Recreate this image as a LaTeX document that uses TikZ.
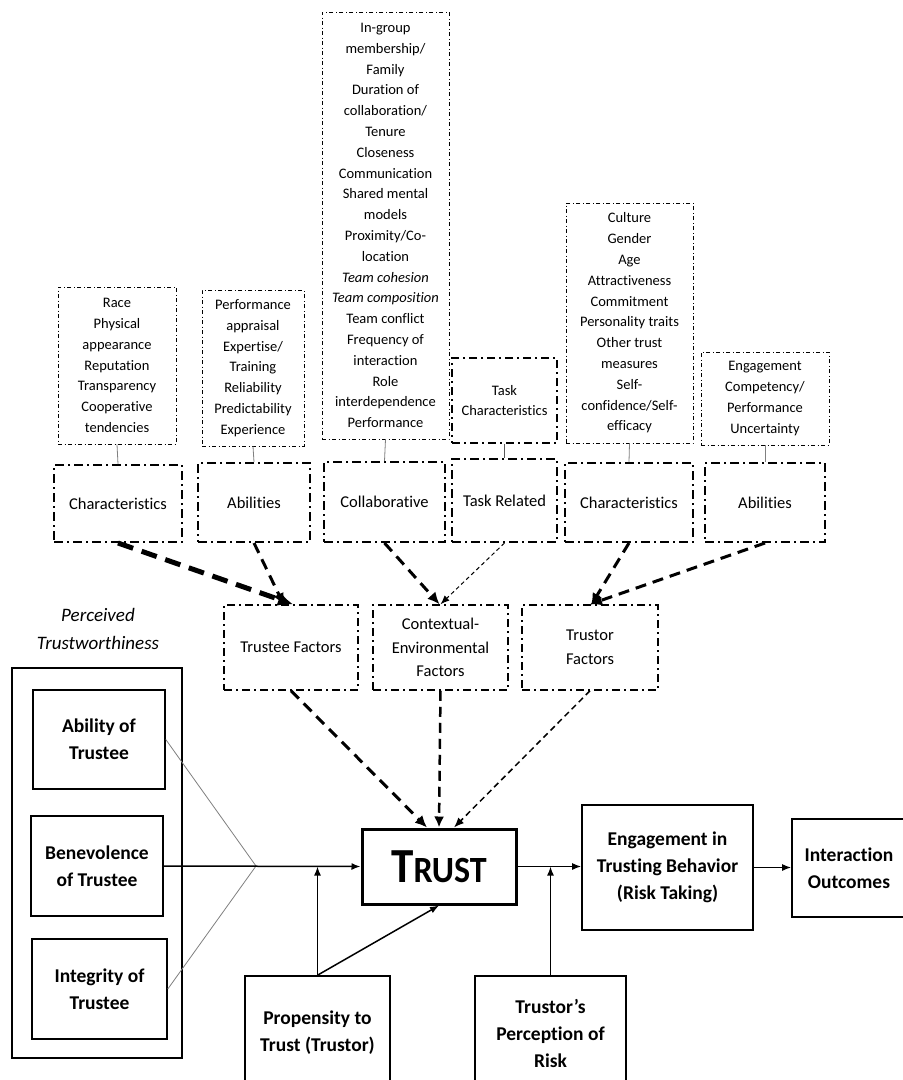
\documentclass[tikz,border=0pt]{standalone}
\usepackage{fontspec}
\setmainfont{Carlito}[Ligatures=NoCommon]
\usepackage{graphicx}
\usetikzlibrary{arrows.meta}

\begin{document}
\begin{tikzpicture}[x=1pt,y=-1pt,
  every node/.style={inner sep=0pt, align=center},
  facts/.style={draw, line width=0.9pt, dash pattern=on 4pt off 2.5pt on 1pt off 2.5pt,
    font=\fontsize{14.5}{20.8}\selectfont},
  grp/.style={draw, line width=2pt, dash pattern=on 9pt off 4pt on 2pt off 4pt,
    font=\fontsize{16.5}{23.5}\selectfont},
  factor/.style={draw, line width=1.5pt, dash pattern=on 8pt off 4pt on 2pt off 4pt,
    font=\fontsize{16.5}{23.5}\selectfont},
  solidbox/.style={draw, line width=1.6pt, font=\bfseries\fontsize{19.5}{27}\selectfont},
  tie/.style={draw=gray, line width=0.8pt},
  link/.style={line width=1.5pt, -{Latex[length=9pt,width=7pt]}},
  heavy/.style={line width=5pt, dash pattern=on 16pt off 9pt, -{Latex[length=15pt,width=14pt]}},
  bold/.style={line width=3pt, dash pattern=on 11pt off 7pt, -{Latex[length=12pt,width=11pt]}},
  mid/.style={line width=2.5pt, dash pattern=on 10pt off 6pt, -{Latex[length=11pt,width=10pt]}},
  fine/.style={line width=1pt, dash pattern=on 4pt off 3pt, -{Latex[length=9pt,width=7pt]}},
  light/.style={line width=1.5pt, dash pattern=on 6pt off 4pt, -{Latex[length=10pt,width=8pt]}}
]
\clip (0,0) rectangle (903,1080);
\fill[white] (0,0) rectangle (903,1080);

% ---- item lists ----
\node[facts, minimum width=118pt, minimum height=157pt] (race) at (117,365.5)
  {Race\\Physical\\appearance\\Reputation\\Transparency\\Cooperative\\tendencies};
\node[facts, minimum width=102pt, minimum height=156pt] (perf) at (253,368)
  {Performance\\appraisal\\Expertise/\\Training\\Reliability\\Predictability\\Experience};
\node[facts, minimum width=127pt, minimum height=427pt] (team) at (385.5,225.5)
  {In-group\\membership/\\Family\\Duration of\\collaboration/\\Tenure\\Closeness\\Communication\\Shared mental\\models\\Proximity/Co-\\location\\\textit{Team cohesion}\\\textit{Team composition}\\Team conflict\\Frequency of\\interaction\\Role\\interdependence\\Performance};
\node[facts, line width=1.8pt, dash pattern=on 8pt off 4pt on 2pt off 4pt,
  minimum width=105pt, minimum height=85pt] (taskc) at (504.5,400.5)
  {Task\\Characteristics};
\node[facts, minimum width=127pt, minimum height=240pt] (culture) at (629.5,323)
  {Culture\\Gender\\Age\\Attractiveness\\Commitment\\Personality traits\\Other trust\\measures\\Self-\\confidence/Self-\\efficacy};
\node[facts, minimum width=128pt, minimum height=93pt] (engl) at (765,398.5)
  {Engagement\\Competency/\\Performance\\Uncertainty};

% ---- groups ----
\node[grp, minimum width=128pt, minimum height=77pt] (char1) at (118,503.5) {Characteristics};
\node[grp, minimum width=112pt, minimum height=79pt] (abil1) at (254,502.5) {Abilities};
\node[grp, minimum width=121pt, minimum height=80pt] (collab) at (384.5,502) {Collaborative};
\node[grp, minimum width=105pt, minimum height=83pt] (taskrel) at (504.5,500.5) {Task Related};
\node[grp, minimum width=128pt, minimum height=79pt] (char2) at (629,502.5) {Characteristics};
\node[grp, minimum width=120pt, minimum height=79pt] (abil2) at (765,502.5) {Abilities};

\draw[tie] (race.south) -- (char1.north);
\draw[tie] (perf.south) -- (abil1.north);
\draw[tie] (team.south) -- (collab.north);
\draw[line width=1pt, gray!70!black] (taskc.south) -- (taskrel.north);
\draw[tie] (culture.south) -- (char2.north);
\draw[tie] (engl.south) -- (abil2.north);

% ---- factors ----
\node[factor, minimum width=134pt, minimum height=85pt] (trustee) at (291,647.5) {Trustee Factors};
\node[factor, minimum width=135pt, minimum height=85pt] (context) at (440.5,647.5)
  {Contextual-\\Environmental\\Factors};
\node[factor, minimum width=136pt, minimum height=85pt] (trustor) at (590,647.5) {Trustor\\Factors};

\draw[heavy] (char1.south) -- ([xshift=2pt]trustee.north);
\draw[bold] (abil1.south) -- ([xshift=-7pt,yshift=-1pt]trustee.north);
\draw[bold] (collab.south) -- ([xshift=-1pt]context.north);
\draw[fine] (taskrel.south) -- (context.north);
\draw[bold] (char2.south) -- ([xshift=1pt,yshift=-1pt]trustor.north);
\draw[bold] (abil2.south) -- (trustor.north);

% ---- perceived trustworthiness ----
\node[font=\itshape\fontsize{19}{28}\selectfont] (ptitle) at (98,629) {Perceived\\Trustworthiness};
\node[draw, line width=1.1pt, minimum width=170pt, minimum height=390pt] (frame) at (97,863) {};
\node[solidbox, minimum width=132pt, minimum height=99pt] (ability) at (99,739.5) {Ability of\\Trustee};
\node[solidbox, minimum width=132pt, minimum height=100pt] (benev) at (97,866) {Benevolence\\of Trustee};
\node[solidbox, minimum width=135pt, minimum height=100pt] (integ) at (99.5,989) {Integrity of\\Trustee};

% ---- core ----
\node[draw, line width=3pt, minimum width=154pt, minimum height=75pt] (trust) at (439,866.5)
  {\scalebox{0.92}[1]{\bfseries\fontsize{49}{49}\selectfont T\fontsize{37}{37}\selectfont RUST}};
\node[solidbox, minimum width=171pt, minimum height=125pt] (behav) at (667.5,867.5)
  {Engagement in\\Trusting Behavior\\(Risk Taking)};
\node[solidbox, minimum width=114pt, minimum height=98pt] (outc) at (849,868)
  {Interaction\\Outcomes};
\node[solidbox, minimum width=145pt, minimum height=114pt] (prop) at (317.5,1033)
  {Propensity to\\Trust (Trustor)};
\node[solidbox, minimum width=151pt, minimum height=114pt] (risk) at (550.5,1033)
  {Trustor’s\\Perception of\\Risk};

\coordinate (meet) at (256,866);
\draw[tie] (ability.east) -- (meet) -- (integ.east);
\draw[link] (benev.east) -- (trust.west);
\draw[link] (prop.north) -- (prop.north |- trust.west);
\draw[link] (prop.north) -- (trust.south);
\draw[link] (risk.north) -- (risk.north |- trust.east);
\draw[link] (trust.east) -- (trust.east -| behav.west);
\draw[link] (behav.east) -- (behav.east -| outc.west);

\draw[bold] (trustee.south) -- ([xshift=-12pt]trust.north);
\draw[mid] (context.south) -- (trust.north);
\draw[light] (trustor.south) -- ([xshift=15pt]trust.north);
\end{tikzpicture}
\end{document}
